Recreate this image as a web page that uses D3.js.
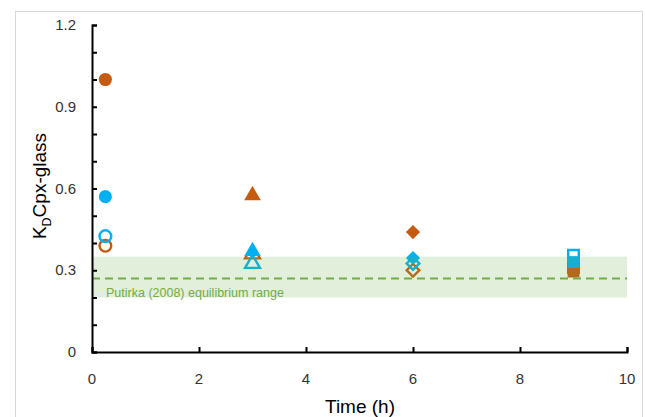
<!DOCTYPE html>
<html>
<head>
<script src="https://cdn.jsdelivr.net/npm/d3@7"></script>
<style>
body { margin: 0; background: #fff; }
text { font-family: "Liberation Sans", Arial, sans-serif; }
</style>
</head>
<body>
<div id="chart"></div>
<script>
// time of each run (h) and the symbol used for it
var times = [0.25, 3, 6, 9];
var shapes = ["circle", "triangle", "diamond", "square"];

// KD Cpx-glass, one value per time
var orangeOpen   = [0.39, 0.365, 0.30, 0.31];
var orangeFilled = [1.00, 0.58, 0.44, 0.295];
var blueFilled   = [0.57, 0.375, 0.345, 0.33];
var blueOpen     = [0.425, 0.33, 0.325, 0.355];

var yTicks = [0, 0.3, 0.6, 0.9, 1.2];
var xTicks = [0, 2, 4, 6, 8, 10];
var band = [0.2, 0.35], bandLine = 0.27;

var series = [
  {values: orangeOpen,   color: "#c55a11", filled: false},
  {values: orangeFilled, color: "#c55a11", filled: true},
  {values: blueFilled,   color: "#00b0f0", filled: true},
  {values: blueOpen,     color: "#00b0f0", filled: false}
];

var w = 646, h = 417;
var svg = d3.select("#chart").append("svg").attr("width", w).attr("height", h);

svg.append("rect").attr("x", 15.5).attr("y", 11.5).attr("width", 627).attr("height", 420)
  .attr("fill", "#fff").attr("stroke", "#d9d9d9");

var x = d3.scaleLinear().domain([0, 10]).range([92, 627]);
var y = d3.scaleLinear().domain([0, 1.2]).range([352, 25]);

// markers
var symbolFor = {
  circle: d3.symbolCircle, triangle: d3.symbolTriangle,
  diamond: d3.symbolSquare, square: d3.symbolSquare
};
var sizeFor = { circle: 135, triangle: 120, diamond: 100, square: 140 };

series.forEach(function(s) {
  svg.append("g").selectAll("path")
    .data(s.values)
    .enter().append("path")
      .attr("d", function(d, i) {
        var sh = shapes[i];
        var sz = s.filled ? sizeFor[sh] : sizeFor[sh] * 0.8;
        return d3.symbol().type(symbolFor[sh]).size(sz)();
      })
      .attr("transform", function(d, i) {
        var rot = shapes[i] === "diamond" ? " rotate(45)" : "";
        var dy = shapes[i] === "triangle" ? 1.5 : 0;
        return "translate(" + x(times[i]) + "," + (y(d) + dy) + ")" + rot;
      })
      .attr("fill", s.filled ? s.color : "none")
      .attr("stroke", s.color)
      .attr("stroke-width", s.filled ? 0 : 2.4);
});

// equilibrium band, drawn over the markers with transparency
svg.append("rect")
  .attr("x", x(0)).attr("width", x(10) - x(0))
  .attr("y", y(band[1])).attr("height", y(band[0]) - y(band[1]))
  .attr("fill", "#70ad47").attr("fill-opacity", 0.2);

svg.append("line")
  .attr("x1", x(0)).attr("x2", x(10))
  .attr("y1", y(bandLine)).attr("y2", y(bandLine))
  .attr("stroke", "#70ad47").attr("stroke-width", 2)
  .attr("stroke-dasharray", "8,5");

svg.append("text")
  .attr("x", 106).attr("y", 297)
  .attr("font-size", 12.5).attr("fill", "#70ad47")
  .text("Putirka (2008) equilibrium range");

// axes
var yAxis = d3.axisLeft(y).tickValues(d3.range(0, 1.21, 0.1)).tickSize(-5).tickFormat("");
var xAxis = d3.axisBottom(x).tickValues(xTicks).tickSize(-5).tickFormat("");

var gy = svg.append("g").attr("transform", "translate(" + x(0) + ",0)").call(yAxis);
var gx = svg.append("g").attr("transform", "translate(0," + y(0) + ")").call(xAxis);
[gx, gy].forEach(function(g) {
  g.select(".domain").attr("stroke", "#000").attr("stroke-width", 2);
  g.selectAll(".tick line").attr("stroke", "#000").attr("stroke-width", 2);
});

svg.append("g").selectAll("text")
  .data(yTicks)
  .enter().append("text")
    .attr("x", 76).attr("y", function(d) { return y(d) + 5; })
    .attr("text-anchor", "end").attr("font-size", 15).attr("fill", "#333")
    .text(function(d) { return d === 0 ? "0" : d3.format(".1f")(d); });

svg.append("g").selectAll("text")
  .data(xTicks)
  .enter().append("text")
    .attr("x", function(d) { return x(d); }).attr("y", 384)
    .attr("text-anchor", "middle").attr("font-size", 15).attr("fill", "#333")
    .text(function(d) { return d; });

svg.append("text")
  .attr("x", 360).attr("y", 413)
  .attr("text-anchor", "middle").attr("font-size", 19).attr("fill", "#000")
  .text("Time (h)");

var yt = svg.append("text")
  .attr("transform", "translate(46,186) rotate(-90)")
  .attr("text-anchor", "middle").attr("font-size", 19).attr("fill", "#000");
yt.append("tspan").text("K");
yt.append("tspan").attr("font-size", 12.5).attr("dy", 5).text("D");
yt.append("tspan").attr("dy", -5).text("Cpx-glass");
</script>
</body>
</html>
